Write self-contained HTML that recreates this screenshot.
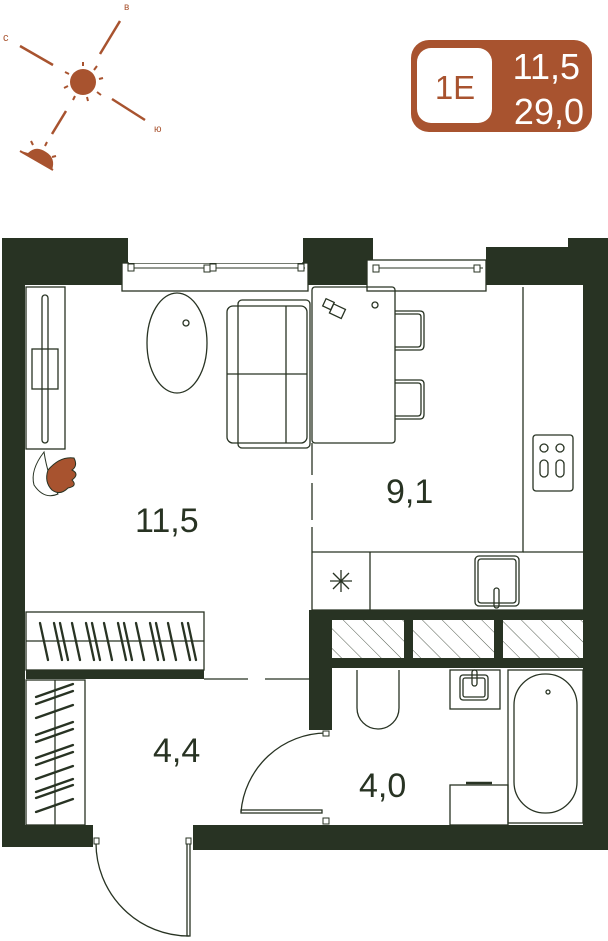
<!DOCTYPE html>
<html><head><meta charset="utf-8"><style>
html,body{margin:0;padding:0;background:#fff;}
svg{display:block;}
text{font-family:"Liberation Sans",sans-serif;}
</style></head><body>
<svg width="608" height="941" viewBox="0 0 608 941" xmlns="http://www.w3.org/2000/svg">
<defs>
<pattern id="h" width="14" height="14" patternUnits="userSpaceOnUse" patternTransform="rotate(-45)">
<line x1="0" y1="0" x2="0" y2="14" stroke="#283323" stroke-width="0.8"/>
</pattern>
</defs>
<!-- compass -->
<g stroke="#a8532f" stroke-width="2.5" fill="#a8532f">
<line x1="20" y1="46" x2="53" y2="65"/>
<line x1="120" y1="21" x2="100" y2="54"/>
<line x1="112" y1="99" x2="145" y2="120"/>
<line x1="66" y1="111" x2="52" y2="134"/>
<circle cx="83" cy="82" r="13" stroke="none"/>
<g stroke-width="2">
<line x1="83" y1="66" x2="83" y2="62"/><line x1="94" y1="70" x2="97" y2="66"/>
<line x1="99" y1="79" x2="103" y2="78"/><line x1="97" y1="92" x2="101" y2="95"/>
<line x1="87" y1="97" x2="88" y2="101"/><line x1="75" y1="96" x2="73" y2="100"/>
<line x1="68" y1="86" x2="64" y2="88"/><line x1="69" y1="74" x2="65" y2="72"/>
</g>
<path d="M21 151 L52 170 Q56 158 46 152 Q36 145 28 153 Z" stroke="none"/>
<line x1="20" y1="151" x2="53" y2="170" stroke-width="2"/>
<g stroke-width="2"><line x1="33" y1="145" x2="31" y2="141"/><line x1="45" y1="146" x2="47" y2="142"/><line x1="52" y1="157" x2="56" y2="156"/></g>
</g>
<g fill="#a8532f" font-size="11">
<text x="3" y="41">с</text><text x="124" y="10" font-size="10">в</text><text x="154" y="132" font-size="10">ю</text>
</g>
<!-- badge -->
<rect x="411" y="40" width="181" height="92" rx="18" fill="#a8532f"/>
<rect x="417" y="48" width="75" height="75" rx="14" fill="#fff"/>
<text x="455" y="99" font-size="33" fill="#a8532f" text-anchor="middle">1E</text>
<text x="580" y="79" font-size="36" fill="#fff" text-anchor="end">11,5</text>
<text x="584" y="124" font-size="36" fill="#fff" text-anchor="end">29,0</text>

<!-- walls -->
<g fill="#283323">
<rect x="2" y="238" width="126" height="47"/>
<rect x="303" y="238" width="70" height="47"/>
<rect x="486" y="247" width="122" height="38"/>
<rect x="568" y="238" width="40" height="12"/>
<rect x="2" y="238" width="23" height="609"/>
<rect x="583" y="238" width="25" height="612"/>
<rect x="2" y="825" width="91" height="22"/>
<rect x="193" y="825" width="415" height="25"/>
<rect x="26" y="670" width="178" height="9"/>
<rect x="309" y="610" width="274" height="10"/>
<rect x="309" y="610" width="23" height="120"/>
<rect x="332" y="658" width="251" height="10"/>
<rect x="404" y="620" width="9" height="38"/>
<rect x="494" y="620" width="9" height="38"/>
</g>
<!-- windows -->
<g fill="#fff" stroke="#283323" stroke-width="1.3">
<rect x="122" y="263" width="186" height="28"/>
<rect x="367" y="260" width="119" height="31"/>
</g>
<rect x="129" y="239" width="173" height="24" fill="#fff"/>
<rect x="373" y="238" width="195" height="9" fill="#fff"/>
<g stroke="#283323" stroke-width="1" fill="#fff">
<line x1="128" y1="268" x2="305" y2="268"/>
<line x1="373" y1="268" x2="483" y2="268"/>
<rect x="128" y="264" width="6" height="7"/><rect x="204" y="265" width="6" height="7"/><rect x="210" y="264" width="6" height="7"/><rect x="298" y="264" width="6" height="7"/>
<rect x="373" y="265" width="6" height="7"/><rect x="474" y="265" width="6" height="7"/>
</g>
<!-- hatch -->
<rect x="332" y="620" width="72" height="38" fill="url(#h)"/>
<rect x="413" y="620" width="81" height="38" fill="url(#h)"/>
<rect x="503" y="620" width="80" height="38" fill="url(#h)"/>

<g fill="none" stroke="#283323" stroke-width="1.3">
<rect x="26" y="287" width="39" height="162"/>
<rect x="42" y="295" width="6" height="148" rx="3"/>
<rect x="32" y="349" width="26" height="40"/>
<ellipse cx="177" cy="343" rx="30" ry="50"/>
<circle cx="186" cy="323" r="3"/>
<rect x="238" y="300" width="72" height="148" rx="4"/>
<rect x="227" y="306" width="80" height="137" rx="6"/>
<line x1="227" y1="374" x2="307" y2="374"/>
<line x1="286" y1="306" x2="286" y2="443"/>
<rect x="312" y="287" width="83" height="156" rx="3"/>
<rect x="324" y="300" width="9" height="8" transform="rotate(25 328 304)"/>
<rect x="331" y="306" width="13" height="10" transform="rotate(25 337 311)"/>
<circle cx="375" cy="305" r="3"/>
<path d="M395 311 H420 Q424 311 424 315 V345 Q424 350 420 350 H395"/>
<path d="M395 314 H418 Q421 314 421 317 V343 Q421 347 418 347 H395"/>
<path d="M395 380 H420 Q424 380 424 384 V414 Q424 419 420 419 H395"/>
<path d="M395 383 H418 Q421 383 421 386 V412 Q421 416 418 416 H395"/>
<line x1="312" y1="443" x2="312" y2="475"/>
<line x1="312" y1="483" x2="312" y2="520"/>
<line x1="312" y1="527" x2="312" y2="610"/>
<polyline points="523,287 523,552 312,552"/>
<line x1="523" y1="552" x2="583" y2="552"/>
<line x1="312" y1="610" x2="583" y2="610"/>
<line x1="370" y1="552" x2="370" y2="610"/>
<rect x="533" y="435" width="40" height="56" rx="3"/>
<circle cx="544" cy="448" r="4"/><circle cx="560" cy="448" r="4"/>
<rect x="540" y="460" width="8" height="17" rx="4"/><rect x="556" y="460" width="8" height="17" rx="4"/>
<rect x="475" y="556" width="44" height="50" rx="4"/>
<rect x="478" y="559" width="38" height="44" rx="3"/>
<rect x="494" y="588" width="5" height="20" rx="2.5"/>
<line x1="330" y1="581" x2="352" y2="581"/><line x1="341" y1="570" x2="341" y2="592"/>
<line x1="333" y1="573" x2="349" y2="589"/><line x1="349" y1="573" x2="333" y2="589"/>
<rect x="26" y="612" width="178" height="58"/>
<line x1="26" y1="641" x2="204" y2="641"/>
<rect x="26" y="680" width="59" height="145"/>
<line x1="55" y1="680" x2="55" y2="825"/>
<line x1="204" y1="679" x2="248" y2="679"/><line x1="265" y1="679" x2="309" y2="679"/>
<path d="M357 670 V708 A21 21 0 0 0 399 708 V670"/>
<rect x="450" y="670" width="50" height="39"/>
<rect x="460" y="675" width="28" height="25" rx="3"/>
<rect x="463" y="678" width="22" height="19" rx="2"/>
<rect x="472" y="670" width="5" height="16" rx="2.5"/>
<rect x="508" y="670" width="75" height="153"/>
<rect x="514" y="674" width="63" height="139" rx="31"/>
<circle cx="548" cy="692" r="2"/>
<rect x="450" y="785" width="58" height="40"/>
<line x1="466" y1="783" x2="492" y2="783" stroke-width="2.5"/>
<path d="M241 812 A86 86 0 0 1 326 733"/>
<rect x="241" y="810" width="81" height="3"/>
<path d="M96 843 A93 93 0 0 0 189 936"/>
<rect x="187" y="843" width="3" height="93"/>
</g>
<g fill="#fff" stroke="#283323" stroke-width="1"><rect x="323" y="731" width="6" height="5"/><rect x="323" y="818" width="6" height="6"/><rect x="94" y="838" width="5" height="6"/><rect x="186" y="838" width="5" height="6"/></g>
<g stroke="#283323" stroke-width="2.3" stroke-linecap="round">
<line x1="40" y1="623" x2="48" y2="660"/><line x1="54" y1="623" x2="62" y2="660"/><line x1="60" y1="623" x2="68" y2="660"/>
<line x1="72" y1="623" x2="80" y2="660"/><line x1="86" y1="623" x2="94" y2="660"/><line x1="92" y1="623" x2="100" y2="660"/>
<line x1="104" y1="623" x2="112" y2="660"/><line x1="118" y1="623" x2="126" y2="660"/><line x1="124" y1="623" x2="132" y2="660"/>
<line x1="136" y1="623" x2="144" y2="660"/><line x1="150" y1="623" x2="158" y2="660"/><line x1="156" y1="623" x2="164" y2="660"/>
<line x1="168" y1="623" x2="176" y2="660"/><line x1="182" y1="623" x2="190" y2="660"/><line x1="188" y1="623" x2="196" y2="660"/>
<line x1="36" y1="697" x2="73" y2="684"/><line x1="36" y1="704" x2="73" y2="691"/>
<line x1="36" y1="718" x2="73" y2="705"/>
<line x1="36" y1="735" x2="73" y2="722"/><line x1="36" y1="742" x2="73" y2="729"/>
<line x1="36" y1="758" x2="73" y2="745"/><line x1="36" y1="765" x2="73" y2="752"/>
<line x1="36" y1="779" x2="73" y2="766"/>
<line x1="36" y1="792" x2="73" y2="779"/><line x1="36" y1="798" x2="73" y2="785"/>
<line x1="36" y1="812" x2="73" y2="799"/>
</g>
<path d="M44 452 Q30 470 34 485 Q44 500 58 494 Q48 478 44 452 Z" fill="#fff" stroke="#283323" stroke-width="1"/>
<path d="M48 470 Q60 456 74 458 Q78 466 72 470 Q80 474 72 480 Q78 486 68 488 Q60 496 52 490 Q44 482 48 470 Z" fill="#a8532f" stroke="#283323" stroke-width="1"/>
<g fill="#283323" font-size="34">
<text x="135" y="532">11,5</text>
<text x="386" y="503">9,1</text>
<text x="153" y="762">4,4</text>
<text x="359" y="797">4,0</text>
</g>
</svg>
</body></html>
